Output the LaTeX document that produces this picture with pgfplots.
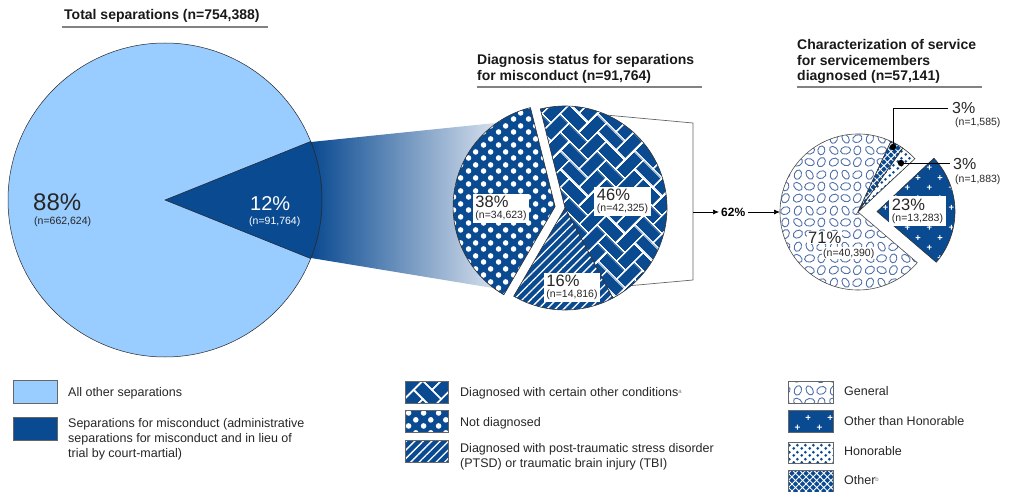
\documentclass[border=0pt]{standalone}
\usepackage{fontspec}
\setmainfont{Liberation Sans}
\usepackage{pgfplots}
\pgfplotsset{compat=1.18}
\usetikzlibrary{patterns,patterns.meta,arrows.meta}

\definecolor{lblue}{RGB}{153,204,255}
\definecolor{dblue}{RGB}{10,74,145}
\definecolor{eblue}{RGB}{80,112,170}
\definecolor{fadeblue}{RGB}{224,231,241}
\definecolor{ulgray}{RGB}{130,130,130}

% ---------------- data (counts) ----------------
\def\nAllOther{662624}
\def\nMisc{91764}
\def\nCertain{42325}
\def\nPTSD{14816}
\def\nNotDiag{34623}
\def\nGeneral{40390}
\def\nOTH{13283}
\def\nHon{1883}
\def\nOther{1585}

% big pie
\edef\hMisc{\fpeval{180*\nMisc/(\nMisc+\nAllOther)}}
% middle pie (clockwise from 104 deg)
\edef\mA{104}
\edef\mB{\fpeval{\mA-360*\nCertain/\nMisc}}
\edef\mC{\fpeval{\mB-360*\nPTSD/\nMisc}}
\edef\mD{\fpeval{\mC-360*\nNotDiag/\nMisc}}
\edef\dX{\fpeval{565+10*cosd((\mC+\mD)/2)}}
\edef\dY{\fpeval{283+10*sind((\mC+\mD)/2)}}
% third pie (counter-clockwise from 65 deg)
\edef\tot{\fpeval{\nGeneral+\nOTH+\nHon+\nOther}}
\edef\gA{65}
\edef\gB{\fpeval{\gA+360*\nGeneral/\tot}}
\edef\gC{\fpeval{\gB+360*\nOTH/\tot}}
\edef\gD{\fpeval{\gC+360*\nHon/\tot}}
\edef\gE{\fpeval{\gD+360*\nOther/\tot}}
\edef\oX{\fpeval{858+19*cosd((\gB+\gC)/2)}}
\edef\oY{\fpeval{279+19*sind((\gB+\gC)/2)}}

% ---------------- patterns ----------------
\tikzdeclarepattern{
  name=wdots, type=uncolored,
  bottom left={(0pt,0pt)}, top right={(15pt,12.5pt)}, tile size={(15pt,12.5pt)},
  code={\fill (3.75pt,3.125pt) circle[radius=2.9pt]; \fill (11.25pt,9.375pt) circle[radius=2.9pt];}
}
\tikzdeclarepattern{
  name=bdots, type=uncolored,
  bottom left={(0pt,0pt)}, top right={(8pt,7pt)}, tile size={(8pt,7pt)},
  code={\fill (2pt,1.75pt) circle[radius=1.65pt]; \fill (6pt,5.25pt) circle[radius=1.65pt];}
}
\tikzdeclarepattern{
  name=pluses, type=uncolored,
  bottom left={(0pt,0pt)}, top right={(22pt,20pt)}, tile size={(22pt,20pt)},
  code={\draw[line width=1pt] (3pt,5pt) -- (8pt,5pt) (5.5pt,2.5pt) -- (5.5pt,7.5pt)
        (14pt,15pt) -- (19pt,15pt) (16.5pt,12.5pt) -- (16.5pt,17.5pt);}
}
\tikzdeclarepattern{
  name=ellip, type=uncolored,
  bottom left={(0pt,0pt)}, top right={(36pt,36pt)}, tile size={(36pt,36pt)},
  code={
   \draw[line width=0.9pt, rotate around={30:(6pt,6pt)}] (6pt,6pt) ellipse [x radius=5pt, y radius=3.8pt];
   \draw[line width=0.9pt, rotate around={-20:(18pt,6pt)}] (18pt,6pt) ellipse [x radius=5pt, y radius=3.5pt];
   \draw[line width=0.9pt, rotate around={60:(30pt,6pt)}] (30pt,6pt) ellipse [x radius=5pt, y radius=3.8pt];
   \draw[line width=0.9pt, rotate around={-40:(6pt,18pt)}] (6pt,18pt) ellipse [x radius=5pt, y radius=3.4pt];
   \draw[line width=0.9pt, rotate around={10:(18pt,18pt)}] (18pt,18pt) ellipse [x radius=5.2pt, y radius=3.8pt];
   \draw[line width=0.9pt, rotate around={80:(30pt,18pt)}] (30pt,18pt) ellipse [x radius=4.6pt, y radius=3.6pt];
   \draw[line width=0.9pt, rotate around={70:(6pt,30pt)}] (6pt,30pt) ellipse [x radius=5pt, y radius=3.6pt];
   \draw[line width=0.9pt, rotate around={-60:(18pt,30pt)}] (18pt,30pt) ellipse [x radius=5pt, y radius=3.3pt];
   \draw[line width=0.9pt, rotate around={25:(30pt,30pt)}] (30pt,30pt) ellipse [x radius=5pt, y radius=3.8pt];
  }
}
\tikzdeclarepattern{
  name=herring, type=uncolored,
  bottom left={(0pt,0pt)}, top right={(52pt,52pt)}, tile size={(52pt,52pt)},
  tile transformation={rotate=45},
  code={
    \foreach \k in {-4,...,6}{\foreach \m in {-3,...,3}{
      \pgfmathsetmacro\xa{13*(\k+2*\m)}\pgfmathsetmacro\ya{13*(\k-2*\m)}
      \draw[line width=1.5pt] (\xa pt,\ya pt) rectangle ++(26pt,13pt);
      \draw[line width=1.5pt] (\xa pt+26pt,\ya pt-13pt) rectangle ++(13pt,26pt);
    }}
  }
}

\newcommand\pieslice[6]{% style, cx, cy, r, start, end
  \path[#1] (axis cs:#2,#3) -- ++(#5:#4pt) arc[start angle=#5, end angle=#6, radius=#4pt] -- cycle;}

\newcommand\fs[2]{\fontsize{#1}{#2}\selectfont}

\begin{document}
\begin{tikzpicture}
\begin{axis}[at={(0,0)}, anchor=south west, scale only axis,
  width=1009pt, height=491pt, xmin=0, xmax=1009, ymin=0, ymax=491,
  hide axis, clip=false]
\addplot[draw=none] coordinates {(0,0)};

% funnel from big wedge to middle pie
\shade[left color=dblue, right color=fadeblue]
  (axis cs:311,349) -- (axis cs:505,369) -- (axis cs:505,201) -- (axis cs:311,233) -- cycle;

% big pie
\fill[lblue, draw=black!85, line width=0.5pt] (axis cs:165,291) circle[radius=157pt];
\pieslice{fill=dblue, draw=black!85, line width=0.5pt}{165}{291}{157}{-\hMisc}{\hMisc}
\node[anchor=base west, inner sep=0, text=black!85, font=\fs{24}{24}] at (axis cs:33,281) {88\%};
\node[anchor=base west, inner sep=0, text=black!85, font=\fs{10.5}{11}] at (axis cs:34,267) {(n=662,624)};
\node[anchor=base west, inner sep=0, text=white, font=\fs{20}{20}] at (axis cs:250,281) {12\%};
\node[anchor=base west, inner sep=0, text=white, font=\fs{10.5}{11}] at (axis cs:249,267) {(n=91,764)};

% bracket around diagnosed part
\draw[black!60, line width=0.7pt] (axis cs:{565+102*cos(\mA)},{283+102*sin(\mA)}) -- (axis cs:693,368)
   -- (axis cs:693,211) -- (axis cs:{565+102*cos(\mC)},{283+102*sin(\mC)});

% middle pie
\pieslice{preaction={fill=dblue}, pattern=herring, pattern color=white, draw=black!80, line width=0.6pt}{565}{283}{102}{\mA}{\mB}
\pieslice{preaction={fill=dblue}, pattern={Lines[angle=45,distance=6pt,line width=1.3pt]}, pattern color=white, draw=black!80, line width=0.6pt}{565}{283}{102}{\mB}{\mC}
\pieslice{preaction={fill=dblue}, pattern=wdots, pattern color=white, draw=black!80, line width=0.6pt}{\dX}{\dY}{102}{\mC}{\mD}

\node[fill=white, align=left, inner sep=2.5pt, text=black!85] at (axis cs:501,282.5) {{\fs{16.5}{16}38\%}\\[-1pt]{\fs{10.5}{11}(n=34,623)}};
\node[fill=white, align=left, inner sep=2.5pt, text=black!85] at (axis cs:622.5,289.5) {{\fs{16.5}{16}46\%}\\[-1pt]{\fs{10.5}{11}(n=42,325)}};
\node[fill=white, align=left, inner sep=2.5pt, text=black!85] at (axis cs:572,203.5) {{\fs{16.5}{16}16\%}\\[-1pt]{\fs{10.5}{11}(n=14,816)}};

% arrows and 62%
\draw[-{Latex[length=6pt,width=5pt]}, line width=0.7pt] (axis cs:693,279) -- (axis cs:719,279);
\node[anchor=west, inner sep=0, font=\bfseries\fs{12}{12}] at (axis cs:721,279) {62\%};
\draw[-{Latex[length=6pt,width=5pt]}, line width=0.7pt] (axis cs:748,279) -- (axis cs:780,279);

% third pie
\pieslice{preaction={fill=white}, pattern=ellip, pattern color=eblue, draw=black!70, line width=0.6pt}{858}{279}{78}{\gA}{\gB}
\pieslice{preaction={fill=dblue}, pattern=pluses, pattern color=white, draw=black!80, line width=0.6pt}{\oX}{\oY}{78}{\gB}{\gC}
\pieslice{preaction={fill=white}, pattern=bdots, pattern color=dblue, draw=black!80, line width=0.6pt}{858}{279}{78}{\gC}{\gD}
\pieslice{preaction={fill=dblue}, pattern={Hatch[angle=45,distance=5pt,line width=0.9pt]}, pattern color=white, draw=black!80, line width=0.6pt}{858}{279}{78}{\gD}{\gE}

\node[fill=white, align=left, inner sep=2.5pt, text=black!85] at (axis cs:917.5,280) {{\fs{16.5}{16}23\%}\\[-1pt]{\fs{10.5}{11}(n=13,283)}};
\node[anchor=base west, inner sep=1pt, fill=white, text=black!85, font=\fs{16.5}{16}] at (axis cs:807,248) {71\%};
\node[anchor=base west, inner sep=1pt, fill=white, text=black!85, font=\fs{10.5}{11}] at (axis cs:822,235) {(n=40,390)};

% leaders
\draw[black, line width=0.7pt] (axis cs:893,344) -- (axis cs:893,383) -- (axis cs:948,383);
\fill[black] (axis cs:893,344) circle[radius=3.2pt];
\draw[black, line width=0.7pt] (axis cs:901,328) -- (axis cs:950,328);
\fill[black] (axis cs:901,328) circle[radius=3.2pt];
\node[anchor=base west, inner sep=0, text=black!85, font=\fs{16}{16}] at (axis cs:952,377) {3\%};
\node[anchor=base west, inner sep=0, text=black!85, font=\fs{10.5}{11}] at (axis cs:955,365) {(n=1,585)};
\node[anchor=base west, inner sep=0, text=black!85, font=\fs{16}{16}] at (axis cs:953,322) {3\%};
\node[anchor=base west, inner sep=0, text=black!85, font=\fs{10.5}{11}] at (axis cs:955,309) {(n=1,883)};

% titles
\node[anchor=base west, inner sep=0, font=\bfseries\fs{14}{15}, text=black!90] at (axis cs:64,471) {Total separations (n=754,388)};
\draw[ulgray, line width=1.2pt] (axis cs:62,464) -- (axis cs:268,464);
\node[anchor=base west, inner sep=0, font=\bfseries\fs{14}{15}, text=black!90] at (axis cs:477,426) {Diagnosis status for separations};
\node[anchor=base west, inner sep=0, font=\bfseries\fs{14}{15}, text=black!90] at (axis cs:477,410.5) {for misconduct (n=91,764)};
\draw[ulgray, line width=1.2pt] (axis cs:477,404) -- (axis cs:702,404);
\node[anchor=base west, inner sep=0, font=\bfseries\fs{14}{15}, text=black!90] at (axis cs:797,441) {Characterization of service};
\node[anchor=base west, inner sep=0, font=\bfseries\fs{14}{15}, text=black!90] at (axis cs:797,425.5) {for servicemembers};
\node[anchor=base west, inner sep=0, font=\bfseries\fs{14}{15}, text=black!90] at (axis cs:797,410) {diagnosed (n=57,141)};
\draw[ulgray, line width=1.2pt] (axis cs:797,404) -- (axis cs:982,404);

% legend left
\path[fill=lblue, draw=black!60, line width=0.8pt] (axis cs:13,111) rectangle (axis cs:57,88);
\path[fill=dblue, draw=black!60, line width=0.8pt] (axis cs:13,74) rectangle (axis cs:57,51);
\node[anchor=base west, inner sep=0, font=\fs{12.5}{15}, text=black!85] at (axis cs:68,94.5) {All other separations};
\node[anchor=base west, inner sep=0, font=\fs{12.5}{15}, text=black!85] at (axis cs:68,63.5) {Separations for misconduct (administrative};
\node[anchor=base west, inner sep=0, font=\fs{12.5}{15}, text=black!85] at (axis cs:68,48.5) {separations for misconduct and in lieu of};
\node[anchor=base west, inner sep=0, font=\fs{12.5}{15}, text=black!85] at (axis cs:68,33.5) {trial by court-martial)};

% legend middle
\path[preaction={fill=dblue}, pattern=herring, pattern color=white, draw=black!60, line width=0.8pt] (axis cs:405,110) rectangle (axis cs:448,88);
\path[preaction={fill=dblue}, pattern=wdots, pattern color=white, draw=black!60, line width=0.8pt] (axis cs:405,81) rectangle (axis cs:448,59);
\path[preaction={fill=dblue}, pattern={Lines[angle=45,distance=6pt,line width=1.3pt]}, pattern color=white, draw=black!60, line width=0.8pt] (axis cs:405,51) rectangle (axis cs:448,29);
\node[anchor=base west, inner sep=0, font=\fs{12.5}{15}, text=black!85] at (axis cs:460,94.5) {Diagnosed with certain other conditions\raisebox{0.5ex}{\color{gray}\fs{6}{6}a}};
\node[anchor=base west, inner sep=0, font=\fs{12.5}{15}, text=black!85] at (axis cs:460,64.5) {Not diagnosed};
\node[anchor=base west, inner sep=0, font=\fs{12.5}{15}, text=black!85] at (axis cs:460,38.5) {Diagnosed with post-traumatic stress disorder};
\node[anchor=base west, inner sep=0, font=\fs{12.5}{15}, text=black!85] at (axis cs:460,24) {(PTSD) or traumatic brain injury (TBI)};

% legend right
\path[preaction={fill=white}, pattern=ellip, pattern color=eblue, draw=black!60, line width=0.8pt] (axis cs:788,110) rectangle (axis cs:833,88);
\path[preaction={fill=dblue}, pattern=pluses, pattern color=white, draw=black!60, line width=0.8pt] (axis cs:788,81) rectangle (axis cs:833,59);
\path[preaction={fill=white}, pattern=bdots, pattern color=dblue, draw=black!60, line width=0.8pt] (axis cs:788,49) rectangle (axis cs:833,28);
\path[preaction={fill=dblue}, pattern={Hatch[angle=45,distance=5pt,line width=0.9pt]}, pattern color=white, draw=black!60, line width=0.8pt] (axis cs:788,21) rectangle (axis cs:833,-4);
\node[anchor=base west, inner sep=0, font=\fs{12.5}{15}, text=black!85] at (axis cs:844,95.5) {General};
\node[anchor=base west, inner sep=0, font=\fs{12.5}{15}, text=black!85] at (axis cs:844,65.5) {Other than Honorable};
\node[anchor=base west, inner sep=0, font=\fs{12.5}{15}, text=black!85] at (axis cs:844,35.5) {Honorable};
\node[anchor=base west, inner sep=0, font=\fs{12.5}{15}, text=black!85] at (axis cs:844,6.5) {Other\raisebox{0.5ex}{\color{gray}\fs{6}{6}b}};
\end{axis}
\pgfresetboundingbox
\useasboundingbox (0,0) rectangle (1009pt,491pt);
\end{tikzpicture}
\end{document}
